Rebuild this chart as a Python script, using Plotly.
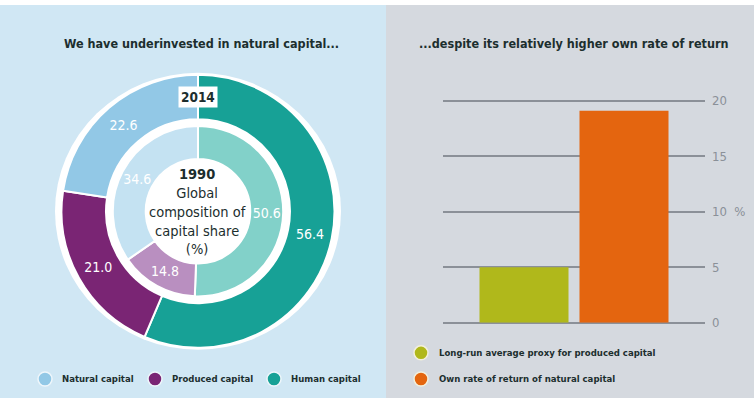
import plotly.graph_objects as go

W, H = 754, 406

# ---- data ----
capital_types = ["Human capital", "Produced capital", "Natural capital"]
share_2014 = [56.4, 21.0, 22.6]
share_1990 = [50.6, 14.8, 34.6]

return_labels = ["Long-run average proxy for produced capital", "Own rate of return of natural capital"]
return_values = [5.0, 19.1]

y_tickvals = [0, 5, 10, 15, 20]
y_ticktext = ["0", "5", "10  %", "15", "20"]

# ---- style ----
FONT = "DejaVu Sans Condensed, Liberation Sans Narrow, Arial Narrow, sans-serif"
DARK = "#1c2e2e"
outer_colors = ["#17a196", "#7a2574", "#92c8e6"]
inner_colors = ["#82d1c9", "#b98fc0", "#c4e2f2"]
bar_colors = ["#b0b81b", "#e4650f"]
LEFT_BG = "#d0e7f4"
RIGHT_BG = "#d5d9df"
GRID = "#8b9098"

# vertical calibration of the rendered picture
SY, OY = 0.964, 5.6


def px(x):
    return x / W


def ty(a):
    return (a - OY) / SY


def py(a):
    return (H - ty(a)) / H


cx, cy = 198, 211
R_OUT, R_OUT_HOLE = 141, 95
R_IN, R_IN_HOLE = 88, 54
tcy = ty(cy)


def dom(r):
    return dict(x=[px(cx - r), px(cx + r)], y=[(H - (tcy + r)) / H, (H - (tcy - r)) / H])


fig = go.Figure()

fig.add_trace(go.Pie(
    labels=capital_types, values=share_2014, sort=False, direction="clockwise",
    rotation=0, hole=R_OUT_HOLE / R_OUT, domain=dom(R_OUT),
    marker=dict(colors=outer_colors, line=dict(color="white", width=2)),
    texttemplate="%{value:.1f}", textposition="inside", insidetextorientation="horizontal",
    textfont=dict(family=FONT, size=14, color="white"), showlegend=False, hoverinfo="label+value",
))
fig.add_trace(go.Pie(
    labels=capital_types, values=share_1990, sort=False, direction="clockwise",
    rotation=0, hole=R_IN_HOLE / R_IN, domain=dom(R_IN),
    marker=dict(colors=inner_colors, line=dict(color="white", width=2)),
    texttemplate="%{value:.1f}", textposition="inside", insidetextorientation="horizontal",
    textfont=dict(family=FONT, size=14, color="white"), showlegend=False, hoverinfo="label+value",
))

# bars
x_lo, x_hi = 443, 705
fig.add_trace(go.Bar(
    x=[0, 1], y=return_values, width=0.89, marker=dict(color=bar_colors, line=dict(width=0)),
    showlegend=False, hovertext=return_labels, xaxis="x", yaxis="y",
))

y0_px, y20_px = 322, 101
ytop = 20.25
top_px = y0_px - (y0_px - y20_px) * ytop / 20

fig.update_layout(
    width=W, height=H, margin=dict(l=0, r=0, t=0, b=0),
    paper_bgcolor="white", plot_bgcolor="rgba(0,0,0,0)",
    xaxis=dict(domain=[px(x_lo), px(x_hi)], range=[-0.81, 1.81], visible=False, fixedrange=True),
    yaxis=dict(domain=[py(y0_px), py(top_px)], range=[0, ytop], side="right",
               tickvals=y_tickvals, ticktext=y_ticktext, showgrid=True, gridcolor=GRID, gridwidth=2,
               zeroline=True, zerolinecolor=GRID, zerolinewidth=2, showline=False, ticks="",
               tickfont=dict(family=FONT, size=13, color="#8a9098"), ticklabelstandoff=6,
               fixedrange=True),
    font=dict(family=FONT),
)

shapes = [
    dict(type="rect", xref="paper", yref="paper", x0=0, x1=px(386), y0=0, y1=1,
         fillcolor=LEFT_BG, line=dict(width=0), layer="below"),
    dict(type="rect", xref="paper", yref="paper", x0=px(386), x1=1, y0=0, y1=1,
         fillcolor=RIGHT_BG, line=dict(width=0), layer="below"),
    dict(type="circle", xref="paper", yref="paper", x0=px(cx - R_OUT - 2), x1=px(cx + R_OUT + 2),
         y0=(H - (tcy + R_OUT + 2)) / H, y1=(H - (tcy - R_OUT - 2)) / H,
         fillcolor="white", line=dict(width=0), layer="below"),
]

annotations = [
    dict(text="<b>We have underinvested in natural capital...</b>", x=px(201), y=py(44), xref="paper", yref="paper",
         showarrow=False, font=dict(family=FONT, size=12.5, color=DARK), xanchor="center", yanchor="middle"),
    dict(text="<b>...despite its relatively higher own rate of return</b>", x=px(574), y=py(44), xref="paper",
         yref="paper", showarrow=False, font=dict(family=FONT, size=12.5, color=DARK), xanchor="center",
         yanchor="middle"),
    dict(text="<b>1990</b><br>Global<br>composition of<br>capital share<br>(%)", x=px(cx), y=py(cy), xref="paper",
         yref="paper", showarrow=False, font=dict(family=FONT, size=14.5, color=DARK), xanchor="center",
         yanchor="middle"),
    dict(text="<b>2014</b>", x=px(cx), y=py(97), xref="paper", yref="paper", showarrow=False,
         font=dict(family=FONT, size=13.5, color=DARK), bgcolor="white", borderpad=2, xanchor="center",
         yanchor="middle"),
]

# left legend
left_legend = [(45, "Natural capital", outer_colors[2]), (155, "Produced capital", outer_colors[1]),
               (274, "Human capital", outer_colors[0])]
for x, label, col in left_legend:
    shapes.append(dict(type="circle", xref="paper", yref="paper", x0=px(x - 7), x1=px(x + 7), y0=py(385),
                       y1=py(371), fillcolor=col, line=dict(color="#eef6fb", width=1.5)))
    annotations.append(dict(text="<b>" + label + "</b>", x=px(x + 15), y=py(378), xref="paper", yref="paper",
                            showarrow=False, xanchor="left", yanchor="middle",
                            font=dict(family=FONT, size=9.5, color=DARK)))

# right legend
for i, (label, col) in enumerate(zip(return_labels, bar_colors)):
    yy = 352 + 26 * i
    shapes.append(dict(type="circle", xref="paper", yref="paper", x0=px(421 - 7), x1=px(421 + 7),
                       y0=py(yy + 7), y1=py(yy - 7), fillcolor=col, line=dict(color="#f3f0dc", width=1.5)))
    annotations.append(dict(text="<b>" + label + "</b>", x=px(437), y=py(yy), xref="paper", yref="paper",
                            showarrow=False, xanchor="left", yanchor="middle",
                            font=dict(family=FONT, size=9.5, color=DARK)))

fig.update_layout(shapes=shapes, annotations=annotations)

# extend the two panel backgrounds to the bottom edge of the page
post = (
    "var r=document.documentElement;"
    "r.style.background='linear-gradient(to right, %s 0px, %s 386px, %s 386px, %s 100%%) "
    "left bottom / 100%% 30px no-repeat, white';"
    "document.body.style.background='transparent';"
) % (LEFT_BG, LEFT_BG, RIGHT_BG, RIGHT_BG)
fig.write_html("out.html", post_script=post)
